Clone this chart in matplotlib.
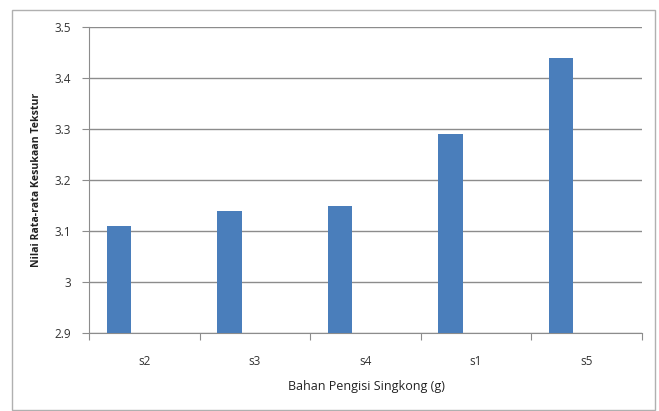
import matplotlib
matplotlib.use('Agg')
import matplotlib.pyplot as plt
from matplotlib.patches import Rectangle
import numpy as np

categories = ['s2', 's3', 's4', 's1', 's5']
values = [3.11, 3.14, 3.15, 3.29, 3.44]

plt.rcParams['font.family'] = ['Open Sans', 'DejaVu Sans']

fig = plt.figure(figsize=(6.59, 4.11), dpi=100)
# outer chart border
fig.patches.append(Rectangle((12 / 659, 0.002), 643 / 659, 1 - 10 / 411 - 0.002,
                             transform=fig.transFigure, fill=False,
                             edgecolor='#b0b0b0', linewidth=1.0))

ax = fig.add_axes([89 / 659, 1 - 333 / 411, (642 - 89) / 659, (333 - 27) / 411])

x = np.arange(len(categories))
ax.bar(x - 0.23, values, width=0.22, bottom=0, color='#4a7ebb', zorder=3)

ax.set_xlim(-0.5, len(categories) - 0.5)
ax.set_ylim(2.9, 3.5)
ax.set_yticks([2.9, 3.0, 3.1, 3.2, 3.3, 3.4, 3.5])
ax.set_yticklabels(['2.9', '3', '3.1', '3.2', '3.3', '3.4', '3.5'])
ax.yaxis.grid(True, color='#8c8c8c', linewidth=1.0, zorder=0)

ax.set_xticks(np.arange(-0.5, len(categories), 1.0))
ax.set_xticklabels([])
ax.set_xticks(x, minor=True)
ax.set_xticklabels(categories, minor=True)
ax.tick_params(axis='x', which='minor', length=0, pad=16, labelsize=8.5, colors='#333333')
ax.tick_params(axis='x', which='major', length=5, direction='out', color='#8c8c8c')
ax.tick_params(axis='y', length=5, direction='out', color='#8c8c8c', labelsize=8.5,
               labelcolor='#333333', pad=8)

for s in ['top', 'right']:
    ax.spines[s].set_visible(False)
for s in ['left', 'bottom']:
    ax.spines[s].set_color('#8c8c8c')

fig.text(37 / 659, 1 - 180 / 411, 'Nilai Rata-rata Kesukaan Tekstur', rotation=90,
         ha='center', va='center', fontsize=7.6, fontweight='bold', color='#222222')
fig.text(366 / 659, 1 - 386 / 411, 'Bahan Pengisi Singkong (g)', ha='center', va='center',
         fontsize=9, color='#222222')

fig.savefig('out.png', dpi=100)
